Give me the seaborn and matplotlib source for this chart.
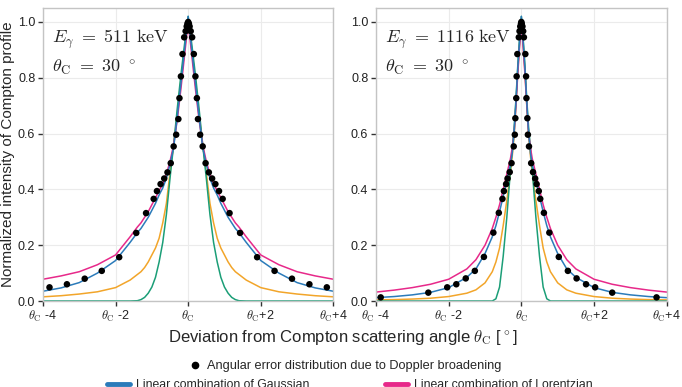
import numpy as np
import pandas as pd
import matplotlib
matplotlib.use("Agg")
import matplotlib.pyplot as plt
from matplotlib.lines import Line2D
import seaborn as sns

# ---------------- data ----------------
# Dots: angular error distribution due to Doppler broadening
dots_x_511 = [-3.82, -3.34, -2.85, -2.38, -1.90, -1.43, -1.16, -0.95, -0.86, -0.76, -0.66, -0.57,
              -0.48, -0.40, -0.33, -0.27, -0.24, -0.20, -0.156, -0.11, -0.07, -0.04, -0.02, 0.0,
              0.02, 0.04, 0.07, 0.11, 0.156, 0.20, 0.24, 0.27, 0.33, 0.40, 0.48, 0.57, 0.66,
              0.75, 0.85, 0.95, 1.14, 1.43, 1.90, 2.38, 2.86, 3.34, 3.82]
dots_y_511 = [0.049, 0.060, 0.080, 0.108, 0.157, 0.244, 0.315, 0.366, 0.394, 0.419, 0.439, 0.461,
              0.494, 0.554, 0.596, 0.652, 0.727, 0.805, 0.885, 0.945, 0.967, 0.984, 0.994, 1.0,
              0.994, 0.984, 0.967, 0.945, 0.885, 0.805, 0.727, 0.652, 0.596, 0.554, 0.494, 0.461,
              0.439, 0.419, 0.394, 0.366, 0.315, 0.244, 0.157, 0.108, 0.080, 0.060, 0.049]

dots_x_1116 = [-3.87, -2.56, -2.04, -1.79, -1.53, -1.28, -1.03, -0.77, -0.62, -0.52, -0.48, -0.42,
               -0.38, -0.32, -0.27, -0.21, -0.18, -0.165, -0.14, -0.13, -0.11, -0.07, -0.05, -0.03,
               -0.01, 0.0,
               0.01, 0.03, 0.05, 0.07, 0.11, 0.13, 0.14, 0.165, 0.18, 0.21, 0.27, 0.32, 0.38,
               0.42, 0.48, 0.52, 0.62, 0.77, 1.03, 1.28, 1.52, 1.78, 2.03, 2.50, 3.72]
dots_y_1116 = [0.013, 0.030, 0.049, 0.060, 0.081, 0.108, 0.158, 0.245, 0.316, 0.366, 0.394, 0.419,
               0.439, 0.462, 0.494, 0.554, 0.596, 0.655, 0.727, 0.805, 0.885, 0.945, 0.967, 0.984,
               0.994, 1.0,
               0.994, 0.984, 0.967, 0.945, 0.885, 0.805, 0.727, 0.655, 0.596, 0.554, 0.494, 0.462,
               0.439, 0.419, 0.394, 0.366, 0.316, 0.245, 0.158, 0.108, 0.081, 0.060, 0.049, 0.030,
               0.013]

# Curves, 511 keV panel
curve_x_511 = [-4.0, -3.5, -3.0, -2.5, -2.0, -1.6, -1.4, -1.3, -1.2, -1.1, -1.0, -0.9, -0.8, -0.7,
               -0.6, -0.5, -0.4, -0.3, -0.2, -0.1, 0.0, 0.1, 0.2, 0.3, 0.4, 0.5, 0.6, 0.7, 0.8,
               0.9, 1.0, 1.1, 1.2, 1.3, 1.4, 1.6, 2.0, 2.5, 3.0, 3.5, 4.0]
gauss_comb_511 = [0.035, 0.047, 0.066, 0.10, 0.145, 0.21, 0.245, 0.26, 0.28, 0.30, 0.325, 0.35,
                  0.38, 0.405, 0.44, 0.49, 0.55, 0.66, 0.78, 0.90, 1.02, 0.90, 0.78, 0.66, 0.55,
                  0.49, 0.44, 0.405, 0.38, 0.35, 0.325, 0.30, 0.28, 0.26, 0.245, 0.21, 0.145,
                  0.10, 0.066, 0.047, 0.035]
lorentz_comb_511 = [0.078, 0.09, 0.105, 0.13, 0.165, 0.23, 0.265, 0.28, 0.30, 0.32, 0.345, 0.37,
                    0.395, 0.42, 0.455, 0.50, 0.56, 0.65, 0.76, 0.88, 1.00, 0.88, 0.76, 0.65, 0.56,
                    0.50, 0.455, 0.42, 0.395, 0.37, 0.345, 0.32, 0.30, 0.28, 0.265, 0.23, 0.165,
                    0.13, 0.105, 0.09, 0.078]
lorentz_511 = [0.015, 0.019, 0.025, 0.033, 0.048, 0.075, 0.095, 0.105, 0.12, 0.14, 0.165, 0.19,
               0.225, 0.28, 0.35, 0.46, 0.56, 0.67, 0.79, 0.90, 1.01, 0.90, 0.79, 0.67, 0.56,
               0.46, 0.35, 0.28, 0.225, 0.19, 0.165, 0.14, 0.12, 0.105, 0.095, 0.075, 0.048,
               0.033, 0.025, 0.019, 0.015]
gauss_511 = [0.0, 0.0, 0.0, 0.0, 0.0, 0.0, 0.001, 0.005, 0.013, 0.028, 0.05, 0.085, 0.14, 0.21,
             0.31, 0.44, 0.56, 0.69, 0.81, 0.92, 1.02, 0.92, 0.81, 0.69, 0.56, 0.44, 0.31, 0.21,
             0.14, 0.085, 0.05, 0.028, 0.013, 0.005, 0.001, 0.0, 0.0, 0.0, 0.0, 0.0, 0.0]

# Curves, 1116 keV panel
curve_x_1116 = [-4.0, -3.5, -3.0, -2.5, -2.0, -1.5, -1.25, -1.0, -0.8, -0.7, -0.6, -0.5, -0.4,
                -0.3, -0.25, -0.2, -0.15, -0.1, -0.05, 0.0, 0.05, 0.1, 0.15, 0.2, 0.25, 0.3, 0.4,
                0.5, 0.6, 0.7, 0.8, 1.0, 1.25, 1.5, 2.0, 2.5, 3.0, 3.5, 4.0]
gauss_comb_1116 = [0.012, 0.016, 0.022, 0.031, 0.048, 0.085, 0.115, 0.17, 0.23, 0.27, 0.32,
                   0.375, 0.435, 0.49, 0.53, 0.60, 0.71, 0.83, 0.93, 1.02, 0.93, 0.83, 0.71, 0.60,
                   0.53, 0.49, 0.435, 0.375, 0.32, 0.27, 0.23, 0.17, 0.115, 0.085, 0.048, 0.031,
                   0.022, 0.016, 0.012]
lorentz_comb_1116 = [0.032, 0.039, 0.048, 0.060, 0.078, 0.115, 0.148, 0.20, 0.26, 0.30, 0.345,
                     0.40, 0.455, 0.51, 0.55, 0.60, 0.70, 0.81, 0.91, 1.00, 0.91, 0.81, 0.70, 0.60,
                     0.55, 0.51, 0.455, 0.40, 0.345, 0.30, 0.26, 0.20, 0.148, 0.115, 0.078, 0.060,
                     0.048, 0.039, 0.032]
lorentz_1116 = [0.004, 0.005, 0.007, 0.010, 0.016, 0.028, 0.040, 0.065, 0.105, 0.14, 0.19, 0.27,
                0.36, 0.46, 0.52, 0.59, 0.70, 0.82, 0.92, 1.01, 0.92, 0.82, 0.70, 0.59, 0.52,
                0.46, 0.36, 0.27, 0.19, 0.14, 0.105, 0.065, 0.040, 0.028, 0.016, 0.010, 0.007,
                0.005, 0.004]
gauss_1116 = [0.0, 0.0, 0.0, 0.0, 0.0, 0.0, 0.0, 0.0, 0.0, 0.008, 0.05, 0.16, 0.30, 0.47, 0.55,
              0.62, 0.72, 0.84, 0.94, 1.02, 0.94, 0.84, 0.72, 0.62, 0.55, 0.47, 0.30, 0.16, 0.05,
              0.008, 0.0, 0.0, 0.0, 0.0, 0.0, 0.0, 0.0, 0.0, 0.0]

panel_texts = [(r"$E_\gamma\ =\ 511\ \mathrm{keV}$", r"$\theta_\mathrm{C}\ =\ 30\ ^\circ$"),
               (r"$E_\gamma\ =\ 1116\ \mathrm{keV}$", r"$\theta_\mathrm{C}\ =\ 30\ ^\circ$")]
x_ticks = [-4, -2, 0, 2, 4]
x_ticklabels = [r"$\theta_\mathrm{C}$ -4", r"$\theta_\mathrm{C}$ -2", r"$\theta_\mathrm{C}$",
                r"$\theta_\mathrm{C}$+2", r"$\theta_\mathrm{C}$+4"]
y_ticks = [0.0, 0.2, 0.4, 0.6, 0.8, 1.0]
legend_dots = "Angular error distribution due to Doppler broadening"
legend_gauss_comb = "Linear combination of Gaussian"
legend_lorentz_comb = "Linear combination of Lorentzian"

# ---------------- style ----------------
sns.set_theme(style="whitegrid")
plt.rcParams["font.family"] = ["Liberation Sans", "DejaVu Sans"]
plt.rcParams["mathtext.fontset"] = "cm"

C_BLUE = "#2b7bba"
C_MAG = "#e7298a"
C_GREEN = "#1b9e77"
C_ORANGE = "#f2a52a"

fig = plt.figure(figsize=(6.82, 3.87), dpi=100)
axL = fig.add_axes([0.0630, 0.2222, 0.4258, 0.7571])
axR = fig.add_axes([0.5513, 0.2222, 0.4263, 0.7571])

panels = [
    (axL, curve_x_511, gauss_comb_511, lorentz_comb_511, lorentz_511, gauss_511, dots_x_511, dots_y_511),
    (axR, curve_x_1116, gauss_comb_1116, lorentz_comb_1116, lorentz_1116, gauss_1116, dots_x_1116, dots_y_1116),
]

for i, (ax, cx, gc, lc, lo, ga, dx, dy) in enumerate(panels):
    cdf = pd.DataFrame({"x": cx, "gc": gc, "lc": lc, "lo": lo, "ga": ga})
    ddf = pd.DataFrame({"x": dx, "y": dy})
    sns.lineplot(data=cdf, x="x", y="lo", ax=ax, color=C_ORANGE, lw=1.1, sort=False)
    sns.lineplot(data=cdf, x="x", y="ga", ax=ax, color=C_GREEN, lw=1.1, sort=False)
    sns.lineplot(data=cdf, x="x", y="lc", ax=ax, color=C_MAG, lw=1.1, sort=False)
    sns.lineplot(data=cdf, x="x", y="gc", ax=ax, color=C_BLUE, lw=1.1, sort=False)
    sns.scatterplot(data=ddf, x="x", y="y", ax=ax, color="black", s=22, edgecolor="none", zorder=5)

    ax.set_xlim(-4, 4)
    ax.set_ylim(0, 1.05)
    ax.set_xticks(x_ticks)
    ax.set_xticklabels(x_ticklabels)
    ax.set_yticks(y_ticks)
    ax.set_yticklabels([f"{v:.1f}" for v in y_ticks])
    ax.set_xlabel("")
    ax.set_ylabel("")
    ax.grid(True, color="#ebebeb", lw=0.8)
    for sp in ax.spines.values():
        sp.set_color("#c4c4c4")
        sp.set_linewidth(1.0)
    ax.tick_params(axis="both", which="major", direction="out", length=3.5, width=1.0,
                   color="#333333", labelsize=9, labelcolor="#222222", pad=2,
                   bottom=True, left=True)
    ax.text(0.03, 0.935, panel_texts[i][0], transform=ax.transAxes, fontsize=13,
            va="top", ha="left")
    ax.text(0.03, 0.83, panel_texts[i][1], transform=ax.transAxes, fontsize=13,
            va="top", ha="left")

axL.set_ylabel("Normalized intensity of Compton profile", fontsize=11)
axL.yaxis.set_label_coords(-0.095, 0.5)

fig.text(0.503, 0.128, r"Deviation from Compton scattering angle $\theta_\mathrm{C}$ [$^\circ$]",
         ha="center", va="center", fontsize=12)

h_dot = Line2D([], [], marker="o", color="black", ls="none", markersize=4.5)
leg1 = fig.legend([h_dot], [legend_dots], loc="center", bbox_to_anchor=(0.506, 0.054),
                  frameon=False, fontsize=9.2, handlelength=1.0, handletextpad=0.4)
h_b = Line2D([], [], color=C_BLUE, lw=3.5)
h_m = Line2D([], [], color=C_MAG, lw=3.5)
leg2 = fig.legend([h_b, h_m], [legend_gauss_comb, legend_lorentz_comb], loc="center",
                  bbox_to_anchor=(0.513, 0.005), ncol=2, frameon=False, fontsize=8.8,
                  handlelength=1.9, handletextpad=0.5, columnspacing=6.2)

fig.savefig("out.png", dpi=100)
